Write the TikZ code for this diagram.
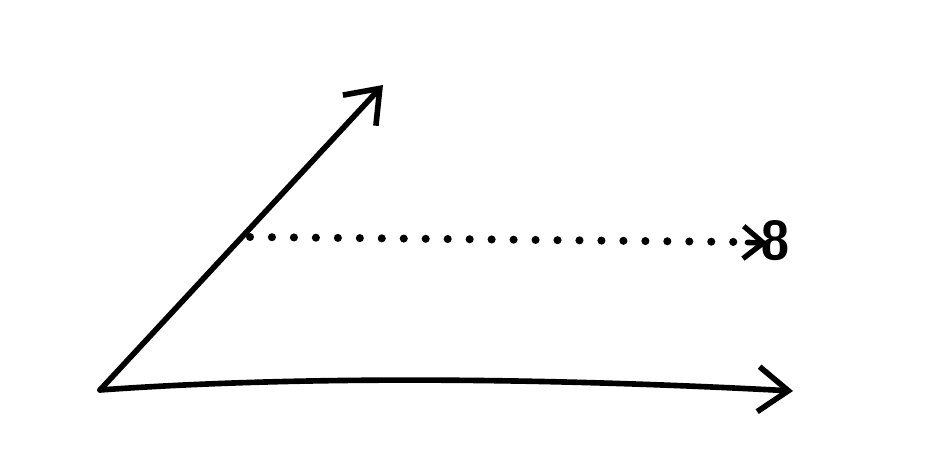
\documentclass[tikz,border=0pt]{standalone}
\usetikzlibrary{arrows.meta}

\tikzset{
  ray/.style={line width=3.2pt, line cap=round, line join=round},
  bigtip/.style={-{Straight Barb[length=6mm, width=9mm, line width=3.2pt]}},
  dotline/.style={line width=4.6pt, line cap=round, dash pattern=on 0pt off 12.5pt}
}

\begin{document}
\begin{tikzpicture}
\useasboundingbox (0,0) rectangle (18.76,9.26);
\coordinate (O) at (2.0,1.46);
\coordinate (A) at (7.66,7.56);
\coordinate (B) at (15.86,1.44);
\coordinate (P) at (5.0,4.52);
\coordinate (Q) at (14.8,4.42);
\draw [ray, bigtip] (O) -- (A);
\draw [ray, bigtip] (O) .. controls (6,1.75) and (11,1.7) .. (B);
\draw [dotline] (P) -- (Q);
\draw [ray, -{Straight Barb[length=4mm, width=6.5mm, line width=3pt]}] (14.95,4.41) -- (15.35,4.40);
\node [font=\fontsize{31}{31}\selectfont\sffamily\bfseries, anchor=west, inner sep=0pt] (inf) at (15.2,4.44) {8};
\end{tikzpicture}
\end{document}
